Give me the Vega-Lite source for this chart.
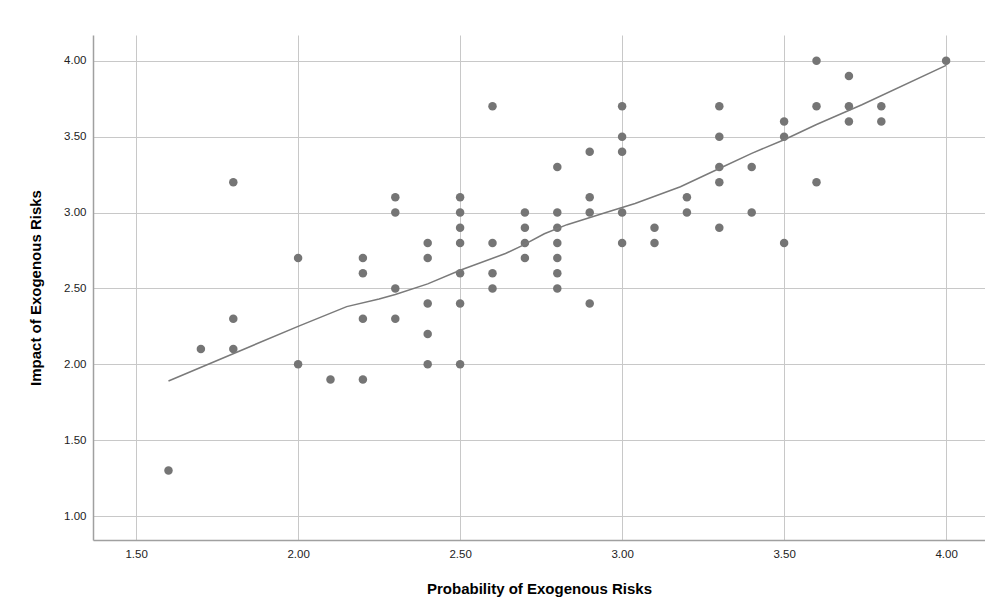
{
  "$schema": "https://vega.github.io/schema/vega-lite/v6.json",
  "width": 892,
  "height": 505,
  "autosize": {"type": "none"},
  "padding": {"left": 93, "top": 35, "right": 0, "bottom": 66},
  "background": "white",
  "config": {
    "font": "Liberation Sans",
    "view": {"stroke": null},
    "axis": {
      "grid": true,
      "gridColor": "#c8c8c8",
      "gridWidth": 1,
      "domainColor": "#a0a0a0",
      "domainWidth": 1.5,
      "ticks": false,
      "labelFont": "Liberation Sans",
      "labelFontSize": 11.5,
      "labelColor": "#222222",
      "titleFont": "Liberation Sans",
      "titleFontSize": 15,
      "titleFontWeight": "bold",
      "titleColor": "#000000"
    }
  },
  "datasets": {
    "points": [
      {"p": 1.6, "i": 1.3},
      {"p": 1.7, "i": 2.1},
      {"p": 1.8, "i": 3.2}, {"p": 1.8, "i": 2.3}, {"p": 1.8, "i": 2.1},
      {"p": 2.0, "i": 2.7}, {"p": 2.0, "i": 2.0},
      {"p": 2.1, "i": 1.9},
      {"p": 2.2, "i": 2.7}, {"p": 2.2, "i": 2.6}, {"p": 2.2, "i": 2.3}, {"p": 2.2, "i": 1.9},
      {"p": 2.3, "i": 3.1}, {"p": 2.3, "i": 3.0}, {"p": 2.3, "i": 2.5}, {"p": 2.3, "i": 2.3},
      {"p": 2.4, "i": 2.8}, {"p": 2.4, "i": 2.7}, {"p": 2.4, "i": 2.4}, {"p": 2.4, "i": 2.2}, {"p": 2.4, "i": 2.0},
      {"p": 2.5, "i": 3.1}, {"p": 2.5, "i": 3.0}, {"p": 2.5, "i": 2.9}, {"p": 2.5, "i": 2.8}, {"p": 2.5, "i": 2.6}, {"p": 2.5, "i": 2.4}, {"p": 2.5, "i": 2.0},
      {"p": 2.6, "i": 3.7}, {"p": 2.6, "i": 2.8}, {"p": 2.6, "i": 2.6}, {"p": 2.6, "i": 2.5},
      {"p": 2.7, "i": 3.0}, {"p": 2.7, "i": 2.9}, {"p": 2.7, "i": 2.8}, {"p": 2.7, "i": 2.7},
      {"p": 2.8, "i": 3.3}, {"p": 2.8, "i": 3.0}, {"p": 2.8, "i": 2.9}, {"p": 2.8, "i": 2.8}, {"p": 2.8, "i": 2.7}, {"p": 2.8, "i": 2.6}, {"p": 2.8, "i": 2.5},
      {"p": 2.9, "i": 3.4}, {"p": 2.9, "i": 3.1}, {"p": 2.9, "i": 3.0}, {"p": 2.9, "i": 2.4},
      {"p": 3.0, "i": 3.7}, {"p": 3.0, "i": 3.5}, {"p": 3.0, "i": 3.4}, {"p": 3.0, "i": 3.0}, {"p": 3.0, "i": 2.8},
      {"p": 3.1, "i": 2.9}, {"p": 3.1, "i": 2.8},
      {"p": 3.2, "i": 3.1}, {"p": 3.2, "i": 3.0},
      {"p": 3.3, "i": 3.7}, {"p": 3.3, "i": 3.5}, {"p": 3.3, "i": 3.3}, {"p": 3.3, "i": 3.2}, {"p": 3.3, "i": 2.9},
      {"p": 3.4, "i": 3.3}, {"p": 3.4, "i": 3.0},
      {"p": 3.5, "i": 3.6}, {"p": 3.5, "i": 3.5}, {"p": 3.5, "i": 2.8},
      {"p": 3.6, "i": 4.0}, {"p": 3.6, "i": 3.7}, {"p": 3.6, "i": 3.2},
      {"p": 3.7, "i": 3.9}, {"p": 3.7, "i": 3.7}, {"p": 3.7, "i": 3.6},
      {"p": 3.8, "i": 3.7}, {"p": 3.8, "i": 3.6},
      {"p": 4.0, "i": 4.0}
    ],
    "fit": [
      {"p": 1.60, "i": 1.89},
      {"p": 2.00, "i": 2.25},
      {"p": 2.15, "i": 2.38},
      {"p": 2.25, "i": 2.43},
      {"p": 2.30, "i": 2.46},
      {"p": 2.40, "i": 2.53},
      {"p": 2.50, "i": 2.62},
      {"p": 2.64, "i": 2.73},
      {"p": 2.69, "i": 2.78},
      {"p": 2.76, "i": 2.86},
      {"p": 2.83, "i": 2.92},
      {"p": 2.95, "i": 3.00},
      {"p": 3.04, "i": 3.06},
      {"p": 3.18, "i": 3.17},
      {"p": 3.30, "i": 3.29},
      {"p": 3.40, "i": 3.39},
      {"p": 3.50, "i": 3.48},
      {"p": 3.60, "i": 3.58},
      {"p": 3.74, "i": 3.71},
      {"p": 4.00, "i": 3.97}
    ]
  },
  "layer": [
    {
      "data": {"name": "points"},
      "mark": {"type": "circle", "size": 72, "color": "#757575", "opacity": 1},
      "encoding": {
        "x": {
          "field": "p", "type": "quantitative",
          "title": "Probability of Exogenous Risks",
          "scale": {"domain": [1.367, 4.12], "nice": false, "zero": false},
          "axis": {"values": [1.5, 2.0, 2.5, 3.0, 3.5, 4.0], "format": ".2f", "labelPadding": 8, "titlePadding": 22}
        },
        "y": {
          "field": "i", "type": "quantitative",
          "title": "Impact of Exogenous Risks",
          "scale": {"domain": [0.842, 4.17], "nice": false, "zero": false},
          "axis": {"values": [1.0, 1.5, 2.0, 2.5, 3.0, 3.5, 4.0], "format": ".2f", "labelPadding": 7, "titlePadding": 20}
        }
      }
    },
    {
      "data": {"name": "fit"},
      "mark": {"type": "line", "color": "#7a7a7a", "strokeWidth": 1.5},
      "encoding": {
        "x": {"field": "p", "type": "quantitative"},
        "y": {"field": "i", "type": "quantitative"}
      }
    }
  ]
}
